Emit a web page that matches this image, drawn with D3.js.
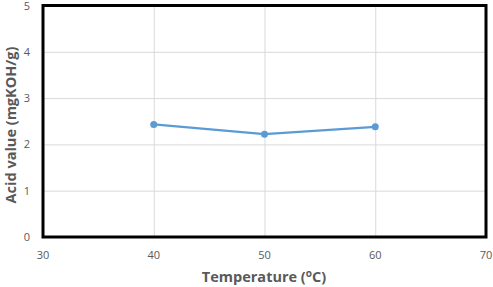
<!DOCTYPE html>
<html>
<head>
<meta charset="utf-8">
<script src="https://cdn.jsdelivr.net/npm/d3@7"></script>
<style>
  body { margin: 0; background: #fff; }
  text { font-family: "Open Sans", "Liberation Sans", sans-serif; }
</style>
</head>
<body>
<svg id="chart" width="493" height="287"></svg>
<script>
// chart values
const temperatures = [40, 50, 60];
const acidValues = [2.43, 2.22, 2.38];
const xTicks = [30, 40, 50, 60, 70];
const yTicks = [0, 1, 2, 3, 4, 5];

const svg = d3.select('#chart');
const plotLeft = 43, plotRight = 486, plotTop = 5.5, plotBottom = 237;

let x = d3.scaleLinear().domain([30, 70]).range([plotLeft, plotRight]);
let y = d3.scaleLinear().domain([0, 5]).range([plotBottom, plotTop]);

// gridlines
svg.append('g')
    .attr('transform', 'translate(0,' + plotBottom + ')')
    .call(d3.axisBottom(x).tickValues(xTicks).tickSize(-(plotBottom - plotTop)).tickFormat(''))
    .call(g => g.select('.domain').remove())
    .selectAll('line').attr('stroke', '#d9d9d9');
svg.append('g')
    .attr('transform', 'translate(' + plotLeft + ',0)')
    .call(d3.axisLeft(y).tickValues(yTicks).tickSize(-(plotRight - plotLeft)).tickFormat(''))
    .call(g => g.select('.domain').remove())
    .selectAll('line').attr('stroke', '#d9d9d9');

// tick labels
svg.append('g').selectAll('text')
    .data(xTicks).enter().append('text')
    .attr('x', d => x(d)).attr('y', 259)
    .attr('text-anchor', 'middle')
    .attr('font-size', 11).attr('fill', '#595959')
    .text(d => d);
svg.append('g').selectAll('text')
    .data(yTicks).enter().append('text')
    .attr('x', 30).attr('y', d => y(d) + 4)
    .attr('text-anchor', 'end')
    .attr('font-size', 11).attr('fill', '#595959')
    .text(d => d);

// plot border
svg.append('rect')
    .attr('x', plotLeft).attr('y', plotTop)
    .attr('width', plotRight - plotLeft).attr('height', plotBottom - plotTop)
    .attr('fill', 'none').attr('stroke', '#000').attr('stroke-width', 3);

// series
const pts = temperatures.map((t, i) => ({t: t, v: acidValues[i]}));
svg.append('path')
    .datum(pts)
    .attr('fill', 'none').attr('stroke', '#5b9bd5').attr('stroke-width', 2.25)
    .attr('d', d3.line().x(d => x(d.t)).y(d => y(d.v)));
svg.selectAll('.pt')
    .data(pts).enter().append('circle')
    .attr('class', 'pt')
    .attr('cx', d => x(d.t)).attr('cy', d => y(d.v)).attr('r', 3.5)
    .attr('fill', '#5b9bd5');

// axis titles
let xt = svg.append('text')
    .attr('x', 264).attr('y', 282)
    .attr('text-anchor', 'middle')
    .attr('font-size', 14.5).attr('font-weight', 'bold').attr('fill', '#595959');
xt.append('tspan').text('Temperature (');
xt.append('tspan').attr('font-size', 10).attr('dy', -5).text('o');
xt.append('tspan').attr('dy', 5).text('C)');

svg.append('text')
    .attr('transform', 'translate(16,125) rotate(-90)')
    .attr('text-anchor', 'middle')
    .attr('font-size', 14.5).attr('font-weight', 'bold').attr('fill', '#595959')
    .text('Acid value (mgKOH/g)');
</script>
</body>
</html>
